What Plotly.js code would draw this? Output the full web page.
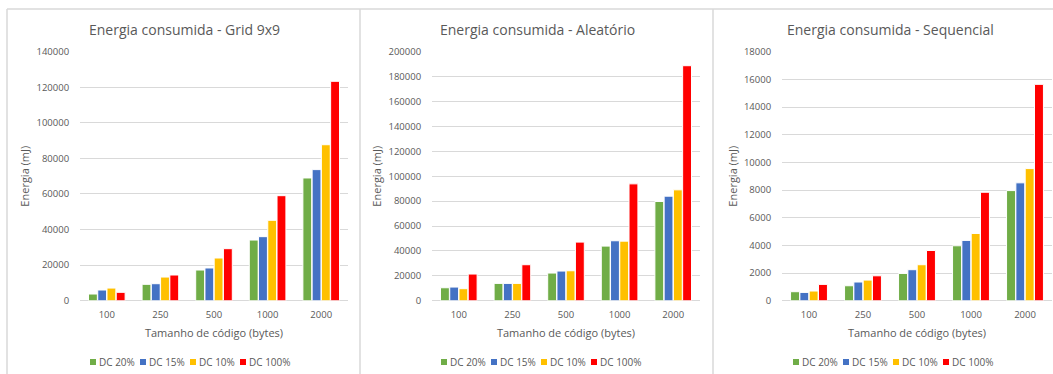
<!DOCTYPE html>
<html>
<head>
<meta charset="utf-8">
<script src="https://cdn.plot.ly/plotly-3.0.1.min.js"></script>
<style>
  html, body { margin: 0; padding: 0; background: #fff; }
  #chart { width: 1053px; height: 374px; }
</style>
</head>
<body>
<div id="chart"></div>
<script>
// Code size categories (bytes) and duty-cycle series
const categories = ['100', '250', '500', '1000', '2000'];
const seriesNames = ['DC 20%', 'DC 15%', 'DC 10%', 'DC 100%'];
const seriesColors = ['#70AD47', '#4472C4', '#FFC000', '#FF0000'];

// Energy consumed (mJ) - Grid 9x9
const gridDC20  = [3750, 9200, 17250, 34100, 69000];
const gridDC15  = [6000, 9550, 18400, 36000, 73700];
const gridDC10  = [7100, 13300, 24000, 45200, 87700];
const gridDC100 = [4700, 14450, 29250, 59050, 123350];

// Energy consumed (mJ) - Aleatório
const aleatDC20  = [10400, 13900, 22200, 43850, 79700];
const aleatDC15  = [10950, 13900, 23800, 48150, 83950];
const aleatDC10  = [9650, 13900, 24050, 47850, 89050];
const aleatDC100 = [21400, 28900, 47050, 93850, 188750];

// Energy consumed (mJ) - Sequencial
const seqDC20  = [650, 1080, 1970, 3970, 7960];
const seqDC15  = [600, 1350, 2240, 4360, 8520];
const seqDC10  = [700, 1490, 2600, 4860, 9550];
const seqDC100 = [1180, 1800, 3630, 7840, 15640];

const panelTitles = [
  'Energia consumida - Grid 9x9',
  'Energia consumida - Aleatório',
  'Energia consumida - Sequencial'
];
const yTitle = 'Energia (mJ)';
const xTitle = 'Tamanho de código (bytes)';
const yMax = [140000, 200000, 18000];
const yStep = [20000, 20000, 2000];

const panelData = [
  [gridDC20, gridDC15, gridDC10, gridDC100],
  [aleatDC20, aleatDC15, aleatDC10, aleatDC100],
  [seqDC20, seqDC15, seqDC10, seqDC100]
];

const W = 1053, H = 374;
const px = v => v / W;
const py = v => 1 - v / H;

// plot-area extents for the three panels, in pixels
const plotLeft  = [80, 432, 782];
const plotRight = [348, 700, 1052];
const plotTop = 51.7, plotBottom = 300.7;
const titleCenter = [184, 537, 890];
const legendStart = [90, 441, 793];

const textGray = '#595959';
const gridGray = '#d9d9d9';
const FONT = 'Open Sans, Noto Sans, sans-serif';

const traces = [];
const layout = {
  width: W, height: H,
  margin: {l: 0, r: 0, t: 0, b: 0},
  paper_bgcolor: '#fff', plot_bgcolor: '#fff',
  showlegend: false,
  barmode: 'group',
  bargap: 0.31,
  bargroupgap: 0.04,
  font: {family: FONT, color: textGray, size: 10},
  annotations: [],
  shapes: []
};

panelData.forEach((rows, p) => {
  const xa = p === 0 ? 'x' : 'x' + (p + 1);
  const ya = p === 0 ? 'y' : 'y' + (p + 1);
  rows.forEach((vals, s) => {
    traces.push({
      type: 'bar',
      name: seriesNames[s],
      x: categories,
      y: vals,
      xaxis: xa, yaxis: ya,
      marker: {color: seriesColors[s], line: {color: '#fff', width: 1}},
      hoverinfo: 'x+y+name'
    });
  });

  const xKey = p === 0 ? 'xaxis' : 'xaxis' + (p + 1);
  const yKey = p === 0 ? 'yaxis' : 'yaxis' + (p + 1);
  layout[xKey] = {
    domain: [px(plotLeft[p]), px(plotRight[p])],
    anchor: ya,
    type: 'category',
    showgrid: false, showline: false, zeroline: false,
    ticks: 'outside', ticklen: 5, tickcolor: 'rgba(0,0,0,0)',
    tickfont: {size: 9.5, color: textGray},
    title: {text: xTitle, font: {size: 11, color: textGray}, standoff: 9},
    fixedrange: true
  };
  layout[yKey] = {
    domain: [py(plotBottom), py(plotTop)],
    anchor: xa,
    range: [0, yMax[p]],
    dtick: yStep[p], tick0: 0,
    showgrid: true, gridcolor: gridGray, gridwidth: 1,
    zeroline: true, zerolinecolor: gridGray, zerolinewidth: 1,
    showline: false,
    ticks: 'outside', ticklen: 8, tickcolor: 'rgba(0,0,0,0)',
    tickformat: 'd',
    tickfont: {size: 9.5, color: textGray},
    title: {text: yTitle, font: {size: 11, color: textGray}, standoff: 4},
    fixedrange: true
  };

  // panel title
  layout.annotations.push({
    xref: 'paper', yref: 'paper',
    x: px(titleCenter[p]), y: py(30),
    xanchor: 'center', yanchor: 'middle',
    text: panelTitles[p], showarrow: false,
    font: {size: 14, color: textGray, family: FONT}
  });

  // legend: colour swatch + series name
  let cursor = legendStart[p];
  seriesNames.forEach((name, s) => {
    layout.shapes.push({
      type: 'rect', xref: 'paper', yref: 'paper',
      x0: px(cursor), x1: px(cursor + 6),
      y0: py(365), y1: py(359),
      fillcolor: seriesColors[s], line: {width: 0}
    });
    layout.annotations.push({
      xref: 'paper', yref: 'paper',
      x: px(cursor + 7), y: py(362),
      xanchor: 'left', yanchor: 'middle',
      text: name, showarrow: false,
      font: {size: 10, color: textGray, family: FONT}
    });
    cursor += 50;
  });
});

// panel frames
const frame = {type: 'line', xref: 'paper', yref: 'paper', line: {color: gridGray, width: 1.5}};
layout.shapes.push(Object.assign({}, frame, {x0: px(7), x1: 1, y0: py(9), y1: py(9)}));
[7, 360, 713].forEach(xp => {
  layout.shapes.push(Object.assign({}, frame, {x0: px(xp), x1: px(xp), y0: py(9), y1: 0}));
});

Plotly.newPlot('chart', traces, layout, {displayModeBar: false, staticPlot: true});
</script>
</body>
</html>
